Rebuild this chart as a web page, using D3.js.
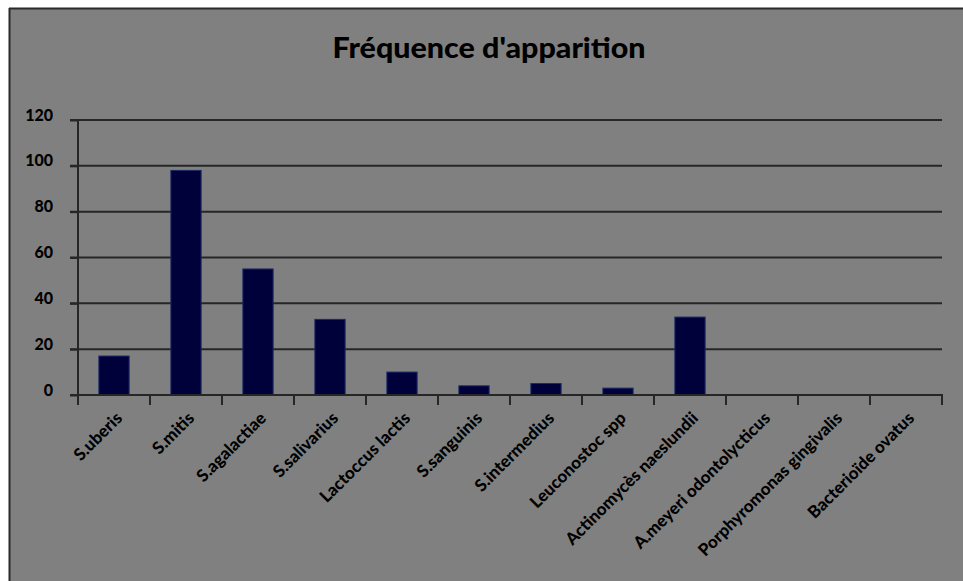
<!DOCTYPE html>
<html><head><meta charset="utf-8">
<script src="https://cdn.jsdelivr.net/npm/d3@7"></script>
<style>html,body{margin:0;padding:0;background:#fff;}svg{display:block;}</style>
</head><body>
<script>
const categories = ["S.uberis","S.mitis","S.agalactiae","S.salivarius","Lactoccus lactis","S.sanguinis","S.intermedius","Leuconostoc spp","Actinomycès naeslundii","A.meyeri odontolycticus","Porphyromonas gingivalis","Bacterioïde ovatus"];
const values = [17, 98, 55, 33, 10, 4, 5, 3, 34, 0, 0, 0];
const yTicks = [0, 20, 40, 60, 80, 100, 120];
const title = "Fréquence d'apparition";

const W = 963, H = 581;
const FONT = "Lato, 'Open Sans', sans-serif";
const svg = d3.select("body").append("svg").attr("width", W).attr("height", H);
svg.append("rect").attr("x",0).attr("y",0).attr("width",W).attr("height",H).attr("fill","#ffffff");
svg.append("rect").attr("x",9).attr("y",8).attr("width",W-9).attr("height",H-8).attr("fill","#808080");
svg.append("line").attr("x1",9).attr("x2",W).attr("y1",8.5).attr("y2",8.5).attr("stroke","#2a2a2a").attr("stroke-width",2);
svg.append("line").attr("x1",9.5).attr("x2",9.5).attr("y1",8).attr("y2",H).attr("stroke","#2a2a2a").attr("stroke-width",2);

const x0 = 78, x1 = 942, yTop = 120, yBot = 395;
const x = d3.scaleBand().domain(categories).range([x0, x1]).paddingInner(0.58).paddingOuter(0.29);
const xb = d3.scaleBand().domain(categories).range([x0, x1]);
const y = d3.scaleLinear().domain([0, 120]).range([yBot, yTop]);

svg.append("text").attr("x", 489).attr("y", 58).attr("text-anchor","middle")
  .attr("font-family",FONT).attr("font-weight",900).attr("font-size",28)
  .attr("textLength",313).attr("lengthAdjust","spacingAndGlyphs")
  .attr("fill","#000").text(title);

// gridlines
const grid = svg.append("g");
grid.selectAll("line").data(yTicks.filter(d=>d>0)).join("line")
  .attr("x1", 70).attr("x2", x1).attr("y1", d=>y(d)).attr("y2", d=>y(d))
  .attr("stroke","#262626").attr("stroke-width",2);

// y axis
const yAxis = svg.append("g").attr("transform",`translate(${x0},0)`)
  .call(d3.axisLeft(y).tickValues(yTicks).tickSize(8).tickPadding(17));
yAxis.select(".domain").attr("stroke","#262626").attr("stroke-width",2).attr("d",`M0,${yTop}V${yBot}`);
yAxis.selectAll(".tick line").attr("stroke","#262626").attr("stroke-width",2);
yAxis.selectAll(".tick text").attr("font-family",FONT).attr("font-weight",900)
  .attr("font-size",16).attr("fill","#000").attr("dy","0.32em").attr("y",-5);

// bars
svg.append("g").selectAll("rect").data(categories).join("rect")
  .attr("x", d=>x(d)).attr("width", x.bandwidth())
  .attr("y", (d,i)=>y(values[i])).attr("height", (d,i)=>yBot - y(values[i]))
  .attr("fill","#00003a").attr("stroke","#1c2a66").attr("stroke-width",1);

// x axis
const xAxisG = svg.append("g").attr("transform",`translate(0,${yBot})`);
xAxisG.append("line").attr("x1",70).attr("x2",x1+1).attr("y1",0).attr("y2",0).attr("stroke","#262626").attr("stroke-width",2);
const tickPos = categories.map(c=>xb(c)).concat([x1]);
xAxisG.selectAll("line.t").data(tickPos).join("line").attr("class","t")
  .attr("x1",d=>d).attr("x2",d=>d).attr("y1",0).attr("y2",10).attr("stroke","#262626").attr("stroke-width",2);
xAxisG.selectAll("text").data(categories).join("text")
  .attr("transform", d=>`translate(${xb(d)+xb.bandwidth()/2+5},${20}) rotate(-45)`)
  .attr("text-anchor","end").attr("dy","0.35em")
  .attr("font-family",FONT).attr("font-weight",900).attr("font-size",17)
  .attr("fill","#000").text(d=>d);
</script>
</body></html>
